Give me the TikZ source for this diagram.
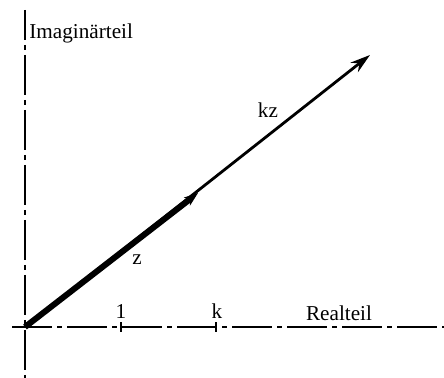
\documentclass[tikz,border=0pt]{standalone}
\usepackage{fontspec}
\setmainfont{Liberation Serif}
\usetikzlibrary{arrows.meta,positioning}

\begin{document}
\begin{tikzpicture}[x=0.5pt,y=-0.5pt,
  axis/.style={line width=0.8pt,dash pattern=on 20pt off 2.5pt on 2.5pt off 2.5pt},
  vec/.style={-{Stealth[length=10pt,width=6pt]},line width=1.4pt},
  tick/.style={line width=0.8pt},
  lbl/.style={font=\fontsize{10.6}{12}\selectfont,inner sep=0pt}]
\useasboundingbox (0,0) rectangle (444,378);
\coordinate (O) at (25,327);
\coordinate (xa) at (12,327);
\coordinate (xe) at (444,327);
\coordinate (ya) at (25,378);
\coordinate (ye) at (25,10);
\coordinate (Z) at (198,193);
\coordinate (KZ) at (370,55);
% axes
\draw[axis] (xa) -- (xe);
\draw[axis,dash phase=5pt] (ye) -- (ya);
% ticks
\coordinate (t1) at (121,327);
\coordinate (tk) at (216,327);
\draw[tick] ([yshift=-2.5pt]t1) -- ([yshift=2.5pt]t1);
\draw[tick] ([yshift=-2.5pt]tk) -- ([yshift=2.5pt]tk);
% vectors
\draw[vec] (O) -- (KZ);
\draw[-{Stealth[length=7pt,width=5pt]},line width=3pt] (O) -- (Z);
% labels
\node[lbl] (one) at (121,312) {1};
\node[lbl] (k) at (217,311) {k};
\node[lbl] (re) at (339,313) {Realteil};
\node[lbl] (z) at (137,260) {z};
\node[lbl] (kz) at (268,110) {kz};
\node[lbl,anchor=west] (im) at (29,33) {Imaginärteil};
\end{tikzpicture}
\end{document}
